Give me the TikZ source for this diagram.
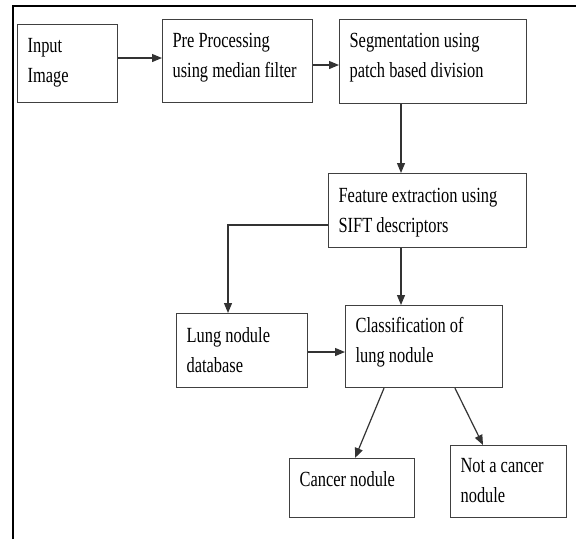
\documentclass[tikz,border=0pt]{standalone}
\usepackage{fontspec}
\setmainfont{Liberation Serif}[FakeStretch=0.76]
\usetikzlibrary{arrows.meta}
\newcommand{\bt}[4]{\parbox[t][#2pt][t]{#1pt}{\raggedright\leftskip=10pt\parindent=0pt\baselineskip=30pt\rule{0pt}{#3pt}#4}}
\begin{document}
\begin{tikzpicture}[x=1pt,y=-1pt,
  blk/.style={draw=black!75, line width=1.2pt, inner sep=0pt, anchor=north west, text=black, font=\fontsize{21.6}{30}\selectfont},
  arr/.style={draw=black!80, line width=1.2pt, -{Triangle[length=10pt,width=8pt]}},
  frameline/.style={draw=black, line width=2pt}]
\useasboundingbox (0,0) rectangle (576,539);
\coordinate (fa) at (12.5,539);
\coordinate (fb) at (12.5,5.5);
\coordinate (fc) at (576,5.5);
\draw[frameline] (fa) -- (fb) -- (fc);

\node[blk] (inp) at (17,24) {\bt{100}{78}{28}{Input\\Image}};
\node[blk] (pre) at (162,19) {\bt{150}{83}{28}{Pre Processing\\using median filter}};
\node[blk] (seg) at (339,19) {\bt{187}{84}{28}{Segmentation using\\patch based division}};
\node[blk] (feat) at (328,173) {\bt{198}{74}{29}{Feature extraction using\\SIFT descriptors}};
\node[blk] (db) at (176,313) {\bt{131}{74}{29}{Lung nodule\\database}};
\node[blk] (cls) at (345,305) {\bt{157}{82}{27}{Classification of\\lung nodule}};
\node[blk] (can) at (289,458) {\bt{125}{59}{28}{Cancer nodule}};
\node[blk] (not) at (450,445) {\bt{116}{72}{27}{Not a cancer\\nodule}};

\coordinate (y58) at (0,58);
\coordinate (y65) at (0,65);
\coordinate (y225) at (0,225);
\coordinate (y352) at (0,352);
\coordinate (x401) at (401,0);
\coordinate (x228) at (228,0);
\coordinate (x384) at (384,0);
\coordinate (x355) at (355,0);
\coordinate (x455) at (455,0);
\coordinate (x483) at (483,0);

\draw[arr] (inp.east |- y58) -- (pre.west |- y58);
\draw[arr] (pre.east |- y65) -- (seg.west |- y65);
\draw[arr] (seg.south -| x401) -- (feat.north -| x401);
\draw[arr] (feat.west |- y225) -| (db.north -| x228);
\draw[arr] (feat.south -| x401) -- (cls.north -| x401);
\draw[arr] (db.east |- y352) -- (cls.west |- y352);
\draw[arr] (cls.south -| x384) -- (can.north -| x355);
\draw[arr] (cls.south -| x455) -- (not.north -| x483);
\end{tikzpicture}
\end{document}
